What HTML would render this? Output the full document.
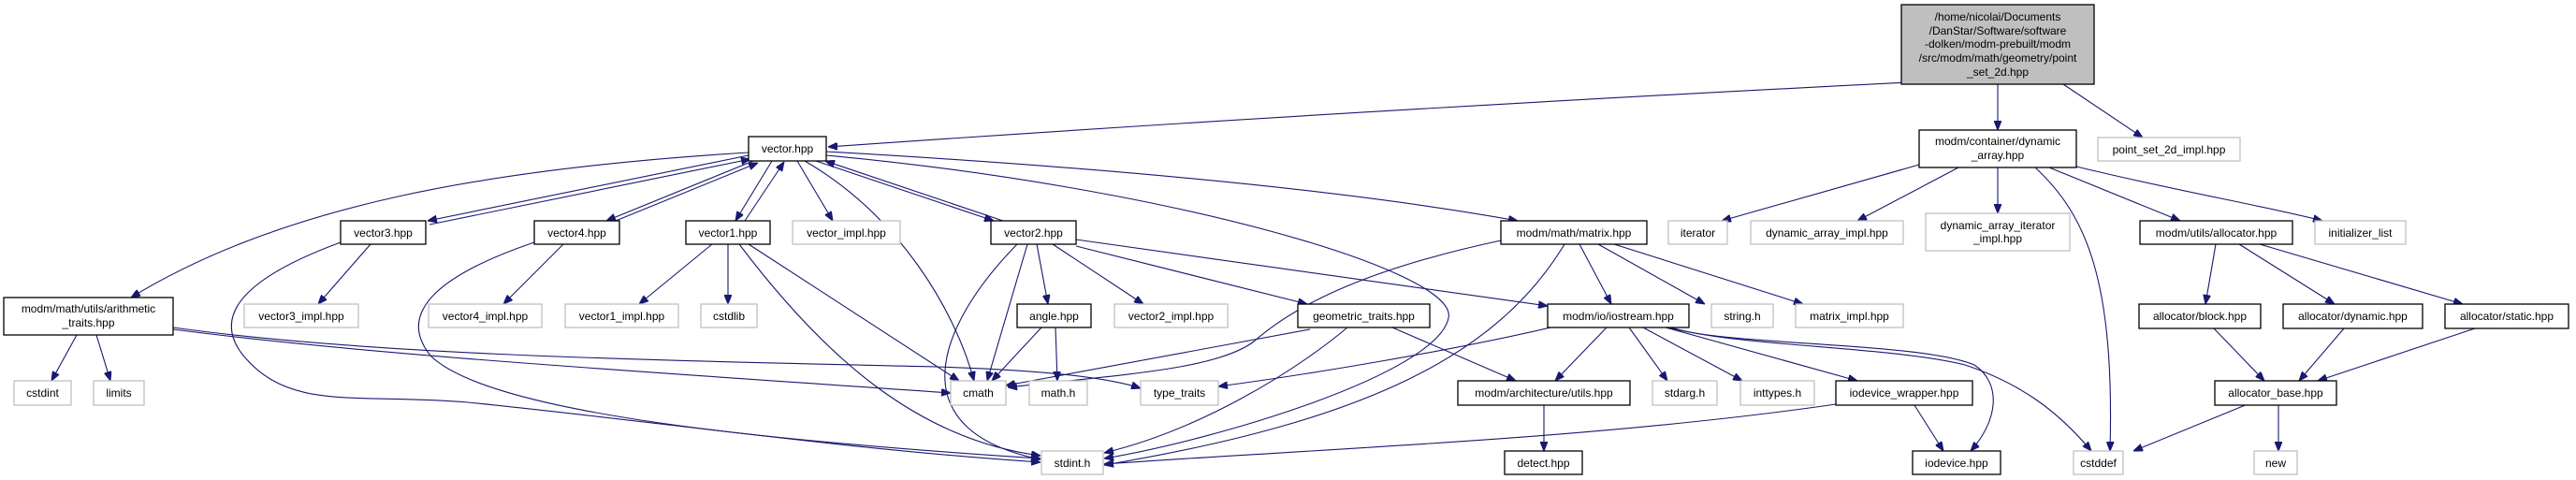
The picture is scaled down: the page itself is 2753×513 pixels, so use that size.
<!DOCTYPE html>
<html><head><meta charset="utf-8"><style>
html,body{margin:0;padding:0;background:#fff;}
svg{display:block;}
text{font-family:"Liberation Sans",sans-serif;font-size:12px;fill:#000;text-anchor:middle;}
.b{fill:#fff;stroke:#000;stroke-width:1.3;}
.g{fill:#fff;stroke:#bfbfbf;stroke-width:1.3;}
.e{fill:none;stroke:#191970;stroke-width:1.1;marker-end:url(#a);}
</style></head><body>
<svg width="2753" height="513" viewBox="0 0 2753 513" xmlns="http://www.w3.org/2000/svg">
<defs><marker id="a" markerWidth="10" markerHeight="8" refX="10" refY="4" orient="auto" markerUnits="userSpaceOnUse"><path d="M0,0 L10,4 L0,8 z" fill="#191970" stroke="#191970"/></marker></defs>

<!-- edges -->
<path class="e" d="M2040,88 C1600,110 1200,135 885,157"/>
<path class="e" d="M2135,90 L2135,139"/>
<path class="e" d="M2205,90 L2290,147"/>
<path class="e" d="M800,163 C520,180 300,220 140,318"/>
<path class="e" d="M800,166 L457,236"/>
<path class="e" d="M459,240 L802,170"/>
<path class="e" d="M805,172 L648,236"/>
<path class="e" d="M653,238 L810,174"/>
<path class="e" d="M825,172 L786,236"/>
<path class="e" d="M796,236 L838,173"/>
<path class="e" d="M852,172 L890,236"/>
<path class="e" d="M872,172 L1062,236"/>
<path class="e" d="M1072,236 L882,172"/>
<path class="e" d="M860,172 C960,230 1020,330 1041,407"/>
<path class="e" d="M883,166 C1250,200 1560,290 1548,340 C1535,400 1300,470 1180,490"/>
<path class="e" d="M883,162 C1200,180 1450,205 1622,236"/>
<path class="e" d="M396,261 L340,325"/>
<path class="e" d="M364,259 C280,290 220,330 260,380 C310,440 380,420 500,430 C700,450 900,480 1112,494"/>
<path class="e" d="M571,259 C480,290 420,330 460,380 C520,440 800,470 1112,490"/>
<path class="e" d="M602,261 L538,325"/>
<path class="e" d="M761,261 L683,325"/>
<path class="e" d="M778,261 L778,325"/>
<path class="e" d="M800,261 L1025,407"/>
<path class="e" d="M790,261 C880,380 980,470 1112,487"/>
<path class="e" d="M1098,261 L1055,407"/>
<path class="e" d="M1087,261 C1000,350 960,460 1112,491"/>
<path class="e" d="M1108,261 L1120,325"/>
<path class="e" d="M1125,261 L1222,325"/>
<path class="e" d="M1150,263 L1397,325"/>
<path class="e" d="M1150,256 L1654,327"/>
<path class="e" d="M1113,350 L1060,407"/>
<path class="e" d="M1128,350 L1130,407"/>
<path class="e" d="M185,350 C400,380 700,385 1000,392 C1100,395 1180,402 1219,415"/>
<path class="e" d="M185,352 C400,380 700,398 1016,420"/>
<path class="e" d="M82,358 L55,407"/>
<path class="e" d="M103,358 L118,407"/>
<path class="e" d="M1400,352 L1075,412"/>
<path class="e" d="M1440,350 C1380,400 1280,460 1180,484"/>
<path class="e" d="M1488,350 L1620,407"/>
<path class="e" d="M1604,257 C1450,290 1380,330 1340,365 C1300,395 1200,400 1077,414"/>
<path class="e" d="M1672,261 C1600,380 1460,450 1180,497"/>
<path class="e" d="M1688,261 L1722,325"/>
<path class="e" d="M1708,261 L1822,325"/>
<path class="e" d="M1725,261 L1927,325"/>
<path class="e" d="M1657,350 C1550,375 1400,400 1302,413"/>
<path class="e" d="M1717,350 L1662,407"/>
<path class="e" d="M1741,350 L1782,407"/>
<path class="e" d="M1756,350 L1862,407"/>
<path class="e" d="M1780,350 L1985,407"/>
<path class="e" d="M1783,350 C1850,370 2050,365 2110,390 C2140,410 2135,450 2106,482"/>
<path class="e" d="M1786,350 C1850,370 2020,370 2100,390 C2160,410 2200,440 2235,482"/>
<path class="e" d="M1650,433 L1650,482"/>
<path class="e" d="M1962,432 C1700,470 1400,480 1180,496"/>
<path class="e" d="M2046,433 L2077,482"/>
<path class="e" d="M2051,176 L1840,236"/>
<path class="e" d="M2093,179 L1985,236"/>
<path class="e" d="M2135,179 L2135,228"/>
<path class="e" d="M2175,179 C2230,230 2260,300 2255,482"/>
<path class="e" d="M2190,179 L2330,236"/>
<path class="e" d="M2219,178 C2330,205 2420,220 2482,236"/>
<path class="e" d="M2368,261 L2357,325"/>
<path class="e" d="M2393,261 L2495,325"/>
<path class="e" d="M2415,261 L2632,325"/>
<path class="e" d="M2366,351 L2420,407"/>
<path class="e" d="M2505,351 L2457,407"/>
<path class="e" d="M2645,351 L2477,407"/>
<path class="e" d="M2402,432 L2280,482"/>
<path class="e" d="M2435,432 L2435,482"/>

<!-- nodes -->
<rect x="2032" y="5" width="206" height="85" fill="#bfbfbf" stroke="#000" stroke-width="1.3"/>
<text x="2135" y="22">/home/nicolai/Documents</text>
<text x="2135" y="37">/DanStar/Software/software</text>
<text x="2135" y="51">-dolken/modm-prebuilt/modm</text>
<text x="2135" y="66">/src/modm/math/geometry/point</text>
<text x="2135" y="81">_set_2d.hpp</text>

<rect class="b" x="800" y="146" width="83" height="26"/><text x="841.5" y="163">vector.hpp</text>
<rect class="b" x="2051" y="139" width="168" height="40"/><text x="2135" y="155">modm/container/dynamic</text><text x="2135" y="170">_array.hpp</text>
<rect class="g" x="2242" y="147" width="152" height="25"/><text x="2318" y="164">point_set_2d_impl.hpp</text>

<rect class="b" x="364" y="236" width="91" height="25"/><text x="409.5" y="253">vector3.hpp</text>
<rect class="b" x="571" y="236" width="91" height="25"/><text x="616.5" y="253">vector4.hpp</text>
<rect class="b" x="733" y="236" width="90" height="25"/><text x="778" y="253">vector1.hpp</text>
<rect class="g" x="847" y="236" width="115" height="25"/><text x="904.5" y="253">vector_impl.hpp</text>
<rect class="b" x="1059" y="236" width="91" height="25"/><text x="1104.5" y="253">vector2.hpp</text>
<rect class="b" x="1604" y="236" width="156" height="25"/><text x="1682" y="253">modm/math/matrix.hpp</text>
<rect class="g" x="1783" y="236" width="63" height="25"/><text x="1814.5" y="253">iterator</text>
<rect class="g" x="1871" y="236" width="163" height="25"/><text x="1952.5" y="253">dynamic_array_impl.hpp</text>
<rect class="g" x="2058" y="228" width="154" height="40"/><text x="2135" y="245">dynamic_array_iterator</text><text x="2135" y="259">_impl.hpp</text>
<rect class="b" x="2287" y="236" width="163" height="25"/><text x="2368.5" y="253">modm/utils/allocator.hpp</text>
<rect class="g" x="2474" y="236" width="97" height="25"/><text x="2522.5" y="253">initializer_list</text>

<rect class="b" x="4" y="318" width="181" height="40"/><text x="94.5" y="334">modm/math/utils/arithmetic</text><text x="94.5" y="349">_traits.hpp</text>
<rect class="g" x="261" y="325" width="122" height="25"/><text x="322" y="342">vector3_impl.hpp</text>
<rect class="g" x="458" y="325" width="121" height="25"/><text x="518.5" y="342">vector4_impl.hpp</text>
<rect class="g" x="604" y="325" width="121" height="25"/><text x="664.5" y="342">vector1_impl.hpp</text>
<rect class="g" x="749" y="325" width="60" height="25"/><text x="779" y="342">cstdlib</text>
<rect class="b" x="1087" y="325" width="79" height="25"/><text x="1126.5" y="342">angle.hpp</text>
<rect class="g" x="1191" y="325" width="121" height="25"/><text x="1251.5" y="342">vector2_impl.hpp</text>
<rect class="b" x="1387" y="325" width="141" height="25"/><text x="1457.5" y="342">geometric_traits.hpp</text>
<rect class="b" x="1654" y="325" width="151" height="25"/><text x="1729.5" y="342">modm/io/iostream.hpp</text>
<rect class="g" x="1829" y="325" width="66" height="25"/><text x="1862" y="342">string.h</text>
<rect class="g" x="1919" y="325" width="115" height="25"/><text x="1976.5" y="342">matrix_impl.hpp</text>
<rect class="b" x="2286" y="325" width="130" height="26"/><text x="2351" y="342">allocator/block.hpp</text>
<rect class="b" x="2440" y="325" width="149" height="26"/><text x="2514.5" y="342">allocator/dynamic.hpp</text>
<rect class="b" x="2613" y="325" width="132" height="26"/><text x="2679" y="342">allocator/static.hpp</text>

<rect class="g" x="15" y="407" width="61" height="26"/><text x="45.5" y="424">cstdint</text>
<rect class="g" x="100" y="407" width="54" height="26"/><text x="127" y="424">limits</text>
<rect class="g" x="1016" y="407" width="59" height="26"/><text x="1045.5" y="424">cmath</text>
<rect class="g" x="1100" y="407" width="62" height="26"/><text x="1131" y="424">math.h</text>
<rect class="g" x="1219" y="407" width="83" height="26"/><text x="1260.5" y="424">type_traits</text>
<rect class="b" x="1558" y="407" width="184" height="26"/><text x="1650" y="424">modm/architecture/utils.hpp</text>
<rect class="g" x="1766" y="407" width="69" height="26"/><text x="1800.5" y="424">stdarg.h</text>
<rect class="g" x="1860" y="407" width="79" height="26"/><text x="1899.5" y="424">inttypes.h</text>
<rect class="b" x="1962" y="407" width="146" height="26"/><text x="2035" y="424">iodevice_wrapper.hpp</text>
<rect class="b" x="2367" y="407" width="130" height="26"/><text x="2432" y="424">allocator_base.hpp</text>

<rect class="g" x="1113" y="482" width="66" height="25"/><text x="1146" y="499">stdint.h</text>
<rect class="b" x="1608" y="482" width="83" height="25"/><text x="1649.5" y="499">detect.hpp</text>
<rect class="b" x="2044" y="482" width="94" height="25"/><text x="2091" y="499">iodevice.hpp</text>
<rect class="g" x="2216" y="482" width="53" height="25"/><text x="2242.5" y="499">cstddef</text>
<rect class="g" x="2409" y="482" width="46" height="25"/><text x="2432" y="499">new</text>
</svg>
</body></html>
